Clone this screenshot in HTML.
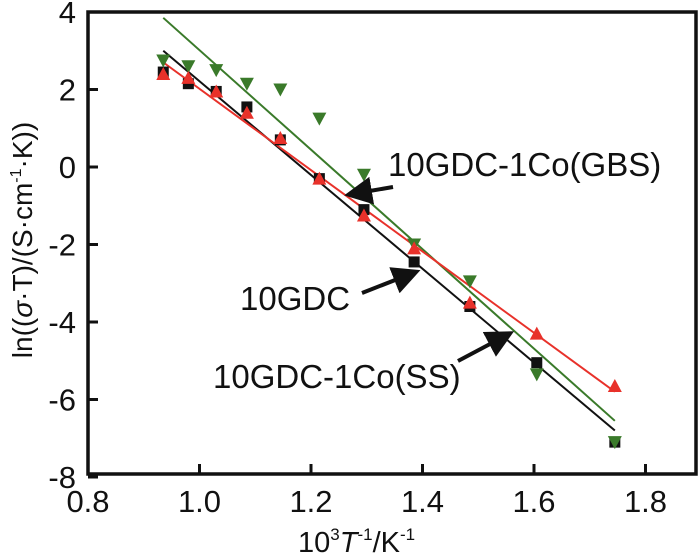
<!DOCTYPE html>
<html><head><meta charset="utf-8"><style>
html,body{margin:0;padding:0;background:#fff;}
svg{display:block;font-family:"Liberation Sans",Arial,sans-serif;}
</style></head><body>
<svg id="chart" width="700" height="558" viewBox="0 0 700 558">
<defs>
<marker id="ah" markerWidth="7" markerHeight="7" refX="5" refY="3.5" orient="auto" markerUnits="strokeWidth"><path d="M0,0 L7,3.5 L0,7 z" fill="#111"/></marker>
</defs>
<g id="plot"></g>
</svg>
<script>
const xTicks=[0.8,1.0,1.2,1.4,1.6,1.8];
const yTicks=[4,2,0,-2,-4,-6,-8];
const xVals=[0.935,0.98,1.03,1.085,1.145,1.215,1.295,1.385,1.485,1.605,1.745];
const gbsVals=[2.75,2.6,2.5,2.15,2.0,1.25,-0.2,-2.0,-2.95,-5.35,-7.1];
const gdcVals=[2.45,2.15,1.95,1.55,0.7,-0.3,-1.1,-2.45,-3.6,-5.05,-7.1];
const ssVals=[2.4,2.3,1.95,1.4,0.75,-0.3,-1.25,-2.1,-3.5,-4.3,-5.65];
const fitX=[0.935,1.745];
const gbsFit=[3.85,-6.55];
const gdcFit=[3.0,-6.8];
const ssFit=[2.7,-5.8];

const NS="http://www.w3.org/2000/svg";
const g=document.getElementById('plot');
const X=v=>88+(v-0.8)/0.2*111.5;
const Y=v=>12+(4-v)/2*77.5;
function mk(t,a){const e=document.createElementNS(NS,t);for(const k in a)e.setAttribute(k,a[k]);g.appendChild(e);return e;}

const fr=mk('rect',{x:88,y:12,width:608,height:462,fill:'none',stroke:'#111','stroke-width':3.5});


xTicks.forEach(t=>{
  const l=mk('line',{x1:X(t),x2:X(t),y1:474,y2:464,stroke:'#111','stroke-width':3});
  
  
  const tx=mk('text',{x:X(t),y:512,'text-anchor':'middle','font-size':31,fill:'#111'});
  tx.textContent=t.toFixed(1);
  
  
});
yTicks.forEach(t=>{
  const l=mk('line',{x1:88,x2:98,y1:Y(t),y2:Y(t),stroke:'#111','stroke-width':3});
  
  
  const tx=mk('text',{x:76,y:Y(t)+11,'text-anchor':'end','font-size':31,fill:'#111'});
  tx.textContent=String(t);
  
  
});
function fit(ys,c,n){const l=mk('line',{x1:X(fitX[0]),y1:Y(ys[0]),x2:X(fitX[1]),y2:Y(ys[1]),stroke:c,'stroke-width':2});
  
  }
fit(gdcFit,'#111','fit-line-10gdc');
fit(gbsFit,'#3a7a2a','fit-line-gbs');
fit(ssFit,'#e8312a','fit-line-ss');
gdcVals.forEach((v,i)=>{const s=mk('rect',{x:X(xVals[i])-5.5,y:Y(v)-5.5,width:11,height:11,fill:'#111'});
  
  });
gbsVals.forEach((v,i)=>{const x=X(xVals[i]),y=Y(v);const p=mk('polygon',{points:`${x-7},${y-6} ${x+7},${y-6} ${x},${y+7}`,fill:'#3a7a2a'});
  
  });
ssVals.forEach((v,i)=>{const x=X(xVals[i]),y=Y(v);const p=mk('polygon',{points:`${x-7},${y+6} ${x+7},${y+6} ${x},${y-7}`,fill:'#e8312a'});
  
  });
function ann(txt,x,y,n){const t=mk('text',{x:x,y:y,'font-size':33,fill:'#111'});t.textContent=txt;
  
  }
function arrow(x1,y1,x2,y2,n){const l=mk('line',{x1,y1,x2,y2,stroke:'#111','stroke-width':4,'marker-end':'url(#ah)'});
  
  }
ann('10GDC-1Co(GBS)',388,176,'label-gbs');
ann('10GDC',240,310,'label-10gdc');
ann('10GDC-1Co(SS)',213,388,'label-ss');
arrow(393,187,352,194,'arrow-gbs');
arrow(362,293,413,273,'arrow-10gdc');
arrow(458,361,507,335,'arrow-ss');
const xt=mk('text',{x:298,y:552,'font-size':29,fill:'#111'});
xt.innerHTML='10<tspan font-size="17" dy="-12">3</tspan><tspan dy="12" font-style="italic">T</tspan><tspan font-size="17" dy="-12">-1</tspan><tspan dy="12">/K</tspan><tspan font-size="17" dy="-12">-1</tspan>';


const yt=mk('text',{x:0,y:0,'font-size':28,fill:'#111','text-anchor':'middle',transform:'translate(32,240) rotate(-90)'});
yt.innerHTML='ln((<tspan font-style="italic">σ</tspan>·T)/(S·cm<tspan font-size="16" dy="-11">-1</tspan><tspan dy="11">·K))</tspan>';


</script>
</body></html>
